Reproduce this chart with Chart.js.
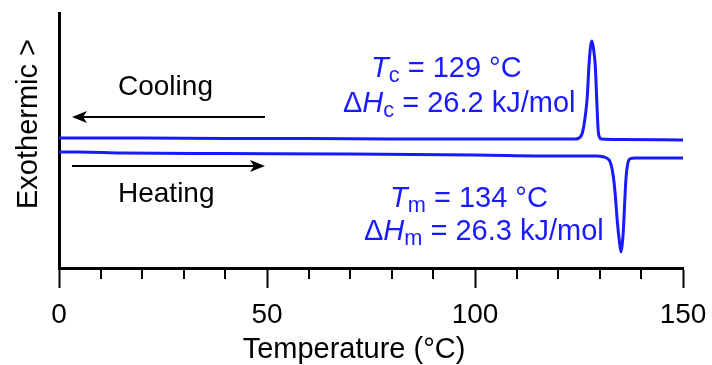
<!DOCTYPE html>
<html>
<head>
<meta charset="utf-8">
<style>
  html, body { margin: 0; padding: 0; background: #ffffff; }
  #wrap { width: 712px; height: 365px; }
</style>
<script src="https://cdn.jsdelivr.net/npm/chart.js@4.4.1/dist/chart.umd.min.js"></script>
</head>
<body>
<div id="wrap"><canvas id="dscChart" width="712" height="365"></canvas></div>
<script>
// DSC traces, temperature in °C, heat flow in arbitrary units (exothermic up)
const coolTemp = [0, 20, 40, 60, 80, 100, 120, 124.0, 124.8, 125.3, 125.8, 126.2, 126.6, 127.0, 127.4, 127.8, 128.1, 128.5, 128.9, 129.3, 129.6, 129.9, 130.4, 135, 150];
const coolFlow = [130, 130, 129.5, 129.5, 129, 129, 129, 129, 129.5, 131, 135, 143, 155, 172, 203, 222, 227, 219, 203, 165, 138, 131, 129, 128.5, 128];

const heatTemp = [0, 5, 15, 40, 70, 100, 120, 129, 131.0, 132.0, 132.5, 132.9, 133.3, 133.7, 134.2, 134.7, 135.1, 135.4, 135.7, 136.0, 136.3, 136.7, 137.2, 138.5, 150];
const heatFlow = [116, 116, 115, 114.5, 114, 113, 112, 112, 111, 109, 106, 100, 90, 74, 47, 27, 16, 24, 40, 67, 90, 104, 109, 110, 110];

const xMin = 0, xMax = 150;
const yMin = 0, yMax = 255;
const majorStep = 50, minorStep = 10;

const xTitle = 'Temperature (°C)';
const yTitle = 'Exothermic >';

const BLUE = '#1a1aff';
const FONT = '"Liberation Sans", Arial, Helvetica, sans-serif';

function toPoints(xs, ys) {
    return xs.map((x, i) => ({ x: x, y: ys[i] }));
}

// draw text made of pieces (italic / subscript)
function drawRich(ctx, x, y, parts, size) {
    parts.forEach(p => {
        const s = p.sub ? size * 0.75 : size;
        ctx.font = (p.italic ? 'italic ' : '') + s + 'px ' + FONT;
        ctx.fillText(p.t, x, y + (p.sub ? size * 0.18 : 0));
        x += ctx.measureText(p.t).width;
    });
}

function drawArrow(ctx, x1, x2, y) {
    const dir = x2 > x1 ? 1 : -1;
    ctx.beginPath();
    ctx.moveTo(x1, y);
    ctx.lineTo(x2 - dir * 10, y);
    ctx.lineWidth = 2;
    ctx.strokeStyle = '#000';
    ctx.stroke();
    ctx.beginPath();
    ctx.moveTo(x2, y);
    ctx.lineTo(x2 - dir * 15, y - 6);
    ctx.lineTo(x2 - dir * 11, y);
    ctx.lineTo(x2 - dir * 15, y + 6);
    ctx.closePath();
    ctx.fillStyle = '#000';
    ctx.fill();
}

const decorPlugin = {
    id: 'decor',
    afterDraw(chart) {
        const ctx = chart.ctx;
        const xs = chart.scales.x;
        const area = chart.chartArea;
        ctx.save();

        // minor ticks
        ctx.strokeStyle = '#000';
        ctx.lineWidth = 2;
        for (let v = xMin + minorStep; v < xMax; v += minorStep) {
            if (v % majorStep === 0) continue;
            const px = Math.round(xs.getPixelForValue(v));
            ctx.beginPath();
            ctx.moveTo(px, area.bottom);
            ctx.lineTo(px, area.bottom + 11);
            ctx.stroke();
        }

        // axis titles
        ctx.fillStyle = '#000';
        ctx.font = '29px ' + FONT;
        ctx.textAlign = 'center';
        ctx.textBaseline = 'alphabetic';
        ctx.fillText(xTitle, 354, 358);

        ctx.save();
        ctx.translate(37, 124);
        ctx.rotate(-Math.PI / 2);
        ctx.fillText(yTitle, 0, 0);
        ctx.restore();

        // cooling / heating labels and arrows
        ctx.textAlign = 'left';
        ctx.font = '28px ' + FONT;
        ctx.fillText('Cooling', 118, 95);
        ctx.fillText('Heating', 118, 202);
        drawArrow(ctx, 265, 72, 117);
        drawArrow(ctx, 72, 265, 166);

        // peak annotations
        ctx.fillStyle = BLUE;
        drawRich(ctx, 371, 77, [
            { t: 'T', italic: true }, { t: 'c', sub: true }, { t: ' = 129 °C' }
        ], 29);
        drawRich(ctx, 343, 112, [
            { t: 'Δ' }, { t: 'H', italic: true }, { t: 'c', sub: true }, { t: ' = 26.2 kJ/mol' }
        ], 29);
        drawRich(ctx, 390, 207, [
            { t: 'T', italic: true }, { t: 'm', sub: true }, { t: ' = 134 °C' }
        ], 29);
        drawRich(ctx, 364, 240, [
            { t: 'Δ' }, { t: 'H', italic: true }, { t: 'm', sub: true }, { t: ' = 26.3 kJ/mol' }
        ], 29);

        ctx.restore();
    }
};

const ctx = document.getElementById('dscChart').getContext('2d');

new Chart(ctx, {
    type: 'line',
    data: {
        datasets: [
            {
                label: 'Cooling',
                data: toPoints(coolTemp, coolFlow),
                borderColor: BLUE,
                borderWidth: 3,
                pointRadius: 0,
                cubicInterpolationMode: 'monotone'
            },
            {
                label: 'Heating',
                data: toPoints(heatTemp, heatFlow),
                borderColor: BLUE,
                borderWidth: 3,
                pointRadius: 0,
                cubicInterpolationMode: 'monotone'
            }
        ]
    },
    options: {
        responsive: false,
        animation: false,
        devicePixelRatio: 1,
        layout: { padding: { left: 59, right: 29, top: 13, bottom: 0 } },
        plugins: {
            legend: { display: false },
            tooltip: { enabled: false }
        },
        scales: {
            x: {
                type: 'linear',
                min: xMin,
                max: xMax,
                grid: {
                    display: true,
                    drawOnChartArea: false,
                    drawTicks: true,
                    tickLength: 20,
                    tickWidth: 2,
                    tickColor: c => (c.tick && c.tick.value % majorStep === 0) ? '#000' : 'rgba(0,0,0,0)'
                },
                border: { display: true, color: '#000', width: 3 },
                ticks: {
                    stepSize: minorStep,
                    autoSkip: false,
                    maxRotation: 0,
                    padding: 10,
                    color: '#000',
                    font: { family: FONT, size: 28 },
                    callback: v => (v % majorStep === 0 ? v : '')
                },
                afterFit: s => { s.height = 97; s.paddingLeft = 0; s.paddingRight = 0; }
            },
            y: {
                min: yMin,
                max: yMax,
                grid: { display: true, drawOnChartArea: false, drawTicks: false },
                border: { display: true, color: '#000', width: 3 },
                ticks: { display: false },
                afterFit: s => { s.width = 0; }
            }
        }
    },
    plugins: [decorPlugin]
});
</script>
</body>
</html>
